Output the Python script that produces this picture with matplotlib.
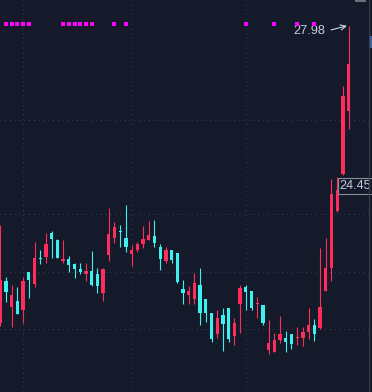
import numpy as np
import matplotlib
matplotlib.use("Agg")
import matplotlib.pyplot as plt
from matplotlib.patches import Rectangle
from matplotlib.transforms import blended_transform_factory

# daily candles, oldest first
opens = [21.43, 22.35, 21.79, 21.91, 21.71, 22.55, 22.29, 22.86, 22.89, 23.41,
         23.26, 22.80, 22.84, 22.73, 22.62, 22.52, 22.58, 22.51, 22.10, 22.93,
         23.31, 23.46, 23.30, 22.96, 23.04, 23.17, 23.27, 23.35, 23.11, 22.80,
         23.04, 22.97, 22.18, 22.05, 21.96, 22.27, 21.96, 21.65, 21.19, 21.60,
         21.76, 21.14, 21.85, 22.22, 22.13, 21.85, 21.83, 20.83, 20.79, 21.05,
         21.10, 21.19, 21.10, 21.10, 21.23, 21.38, 21.32, 22.13, 22.64, 23.90,
         24.72, 26.11]
highs = [23.59, 22.44, 22.27, 22.22, 22.44, 22.55, 23.22, 23.05, 23.42, 23.46,
         23.28, 23.26, 22.91, 22.76, 22.75, 22.75, 23.02, 22.64, 22.64, 23.96,
         23.66, 23.59, 24.03, 23.15, 23.22, 23.57, 23.68, 23.70, 23.17, 23.10,
         23.05, 22.97, 22.38, 22.24, 22.53, 22.64, 21.96, 21.65, 21.71, 21.76,
         21.76, 21.54, 22.27, 22.27, 22.13, 22.00, 21.83, 21.49, 21.21, 21.58,
         21.25, 21.19, 21.34, 21.34, 21.76, 21.52, 23.08, 23.30, 24.60, 24.65,
         26.66, 27.98]
lows = [21.36, 21.89, 21.35, 21.62, 21.43, 21.99, 22.23, 22.73, 22.76, 22.86,
        22.86, 22.76, 22.56, 22.43, 22.51, 22.36, 22.25, 22.10, 21.92, 22.80,
        23.20, 23.11, 23.00, 22.69, 23.00, 23.09, 23.26, 23.11, 22.60, 22.76,
        22.76, 22.32, 21.85, 21.85, 21.85, 21.38, 21.45, 21.01, 21.10, 20.81,
        21.01, 20.94, 21.21, 21.71, 21.71, 21.54, 21.38, 20.74, 20.79, 20.99,
        20.79, 20.85, 20.94, 20.92, 21.07, 21.03, 21.30, 22.13, 22.35, 23.88,
        24.69, 25.71]
closes = [22.38, 22.11, 22.05, 21.63, 22.35, 22.38, 22.86, 22.84, 23.17, 23.28,
          22.87, 22.84, 22.71, 22.62, 22.55, 22.58, 22.27, 22.25, 22.62, 23.39,
          23.55, 23.44, 23.11, 23.04, 23.17, 23.28, 23.37, 23.20, 22.85, 23.04,
          22.82, 22.34, 22.09, 22.13, 22.31, 21.65, 21.65, 21.07, 21.54, 21.41,
          21.07, 21.43, 22.20, 22.11, 21.76, 21.87, 21.43, 20.99, 21.05, 21.19,
          21.01, 20.96, 21.12, 21.23, 21.38, 21.19, 21.78, 22.64, 24.27, 24.36,
          26.44, 27.14]

# candles flagged by the signal row at the top
signal_idx = [1, 2, 3, 4, 5, 11, 12, 13, 14, 15, 16, 20, 22, 43, 48, 52, 55]

grid_prices = [25.91, 23.83, 22.55, 21.30]
grid_days = [4, 23, 43]

max_label = "27.98"
last_label = "24.45"

bg = "#141a29"
up_col = "#ff2d5c"
down_col = "#3ff0f0"

plt.rcParams['font.family'] = ['Liberation Sans', 'DejaVu Sans']

fig = plt.figure(figsize=(3.72, 3.92), dpi=100, facecolor=bg)
ax = fig.add_axes([0, 0, 1, 1])
ax.set_facecolor(bg)

o = np.array(opens)
h = np.array(highs)
l = np.array(lows)
c = np.array(closes)
x = np.arange(len(o))
colors = np.where(c >= o, up_col, down_col)

for gp in grid_prices:
    ax.axhline(gp, color="#3b4256", lw=0.8, dashes=(0.8, 3.5), zorder=0)
for gd in grid_days:
    ax.axvline(gd, color="#3b4256", lw=0.8, dashes=(0.8, 3.5), zorder=0)

ax.vlines(x, l, h, colors=colors, lw=0.8, zorder=2)
body = np.maximum(np.abs(c - o), 0.025)
ax.bar(x, body, bottom=np.minimum(o, c), width=0.58, color=colors, lw=0, zorder=3)

trans = blended_transform_factory(ax.transData, ax.transAxes)
ax.scatter(signal_idx, [0.938] * len(signal_idx), marker='s', s=5, color="#ff00ff",
           lw=0, transform=trans, zorder=4)

top = int(np.argmax(h))
ax.annotate(max_label, xy=(top - 0.3, h[top]), xytext=(51.4, 27.86),
            ha='left', va='center', fontsize=9.2, color="#c3cde0",
            arrowprops=dict(arrowstyle='->', color="#d0d6e2", lw=0.8,
                            relpos=(1, 0.5), shrinkA=2, shrinkB=0))

ax.text(59.46, 24.45, last_label, ha='left', va='center', fontsize=9.2, color="#c3cde0",
        bbox=dict(boxstyle='square,pad=0.15', facecolor=bg, edgecolor="#8a8f9a", lw=0.8),
        zorder=5)

ax.set_xlim(-0.05, 65.1)
ax.set_ylim(19.91, 28.55)
ax.axis('off')

# right axis border and clipped axis labels
fig.add_artist(plt.Line2D([369 / 372, 369 / 372], [0, 1], transform=fig.transFigure,
                          color="#3a3f4c", lw=0.8))
fig.add_artist(Rectangle((369 / 372, 1 - 48 / 392), 3 / 372, 12 / 392,
                         transform=fig.transFigure, color="#3a64a8", lw=0))
fig.add_artist(Rectangle((355 / 372, 1 - 2 / 392), 11 / 372, 2 / 392,
                         transform=fig.transFigure, color="#6a6f7a", lw=0))

fig.savefig("out.png", dpi=100, facecolor=bg)
